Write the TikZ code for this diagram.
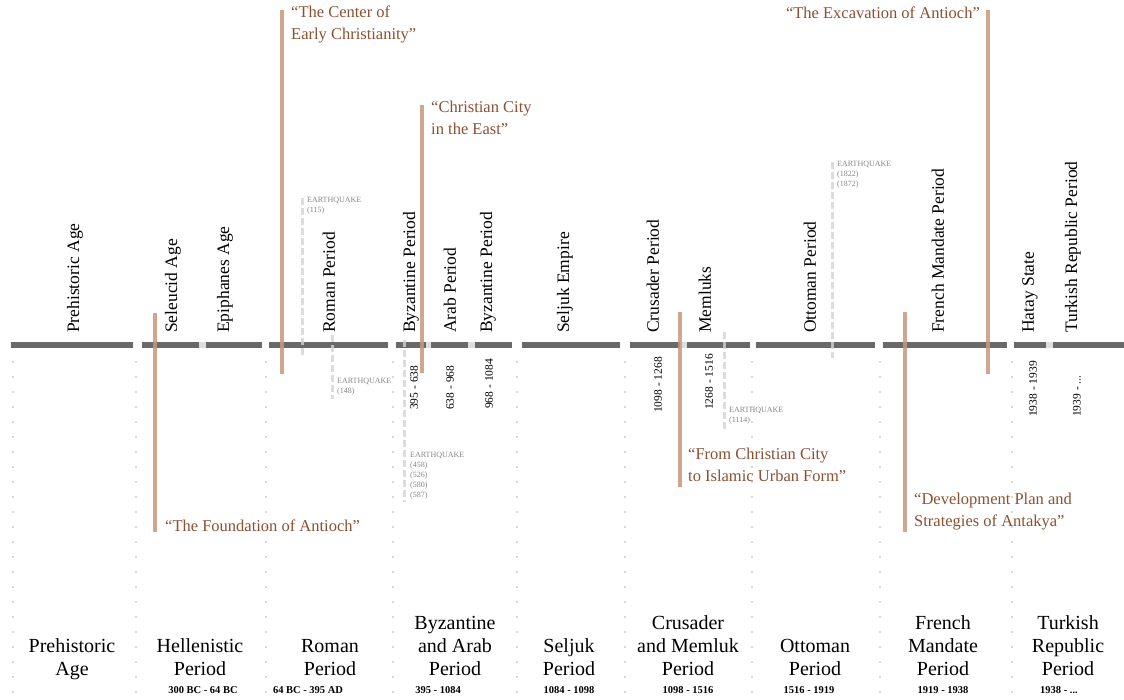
\documentclass[tikz,border=0pt]{standalone}
\usepackage{fontspec}
\setmainfont{Liberation Serif}
\definecolor{tlgray}{RGB}{105,105,105}
\definecolor{gapgray}{RGB}{222,222,222}
\definecolor{copper}{RGB}{204,150,124}
\definecolor{copperdark}{RGB}{140,80,50}
\definecolor{eqgray}{RGB}{212,212,212}
\definecolor{eqtext}{RGB}{135,135,135}
\definecolor{dotgray}{RGB}{175,175,175}
\begin{document}
\begin{tikzpicture}[x=1pt,y=-1pt,
  tl/.style={line width=6pt, draw=tlgray},
  tlgap/.style={line width=6pt, draw=gapgray},
  vlab/.style={rotate=90, anchor=west, inner sep=0pt, font=\fontsize{17.5}{20}\selectfont},
  vdate/.style={rotate=90, anchor=west, inner sep=0pt, font=\fontsize{11.5}{13}\selectfont},
  plab/.style={align=center, anchor=south, inner sep=0pt, text depth=5pt, font=\fontsize{20}{23}\selectfont},
  pdate/.style={anchor=center, inner sep=0pt, font=\bfseries\fontsize{10.5}{12}\selectfont},
  cline/.style={line width=4pt, draw=copper, opacity=0.85},
  clab/.style={inner sep=0pt, align=left, text=copperdark, font=\fontsize{16.5}{22}\selectfont},
  eqline/.style={line width=3pt, draw=eqgray, dash pattern=on 7pt off 3pt, opacity=0.8},
  eqlab/.style={anchor=north west, inner sep=0pt, align=left, text=eqtext, font=\fontsize{8}{10}\selectfont},
  dotc/.style={fill=dotgray, draw=none}
]
\useasboundingbox (0,0) rectangle (1124,700);
\fill[white] (0,0) rectangle (1124,700);

% dotted period separators
\foreach \x in {13,136,266,393,517,625,752,880,1012}{
  \foreach \y in {362,377,...,697}{
    \fill[dotc] (\x,\y) circle (0.9);
  }
}

% timeline gaps (sub-periods)
\foreach \a/\b in {199/206,426/431,468/475,680/687,1046/1053}{
  \draw[tlgap] (\a,345) -- (\b,345);
}
% timeline segments
\foreach \a/\b in {11/133,142/199,206/262,269/388,396/426,431/468,475/512,522/620,630/680,687/750,756/875,883/1007,1014/1046,1053/1124}{
  \draw[tl] (\a,345) -- (\b,345);
}

% earthquakes
\coordinate (e1t) at (302,198); \coordinate (e1b) at (302,356);
\coordinate (e2t) at (332,335); \coordinate (e2b) at (332,399);
\coordinate (e3t) at (404,340); \coordinate (e3b) at (404,502);
\coordinate (e4t) at (724,332); \coordinate (e4b) at (724,432);
\coordinate (e5t) at (832,162); \coordinate (e5b) at (832,358);
\draw[eqline] (e1t) -- (e1b);
\draw[eqline] (e2t) -- (e2b);
\draw[eqline] (e3t) -- (e3b);
\draw[eqline] (e4t) -- (e4b);
\draw[eqline] (e5t) -- (e5b);
\node[eqlab] (eq1) at (307,197) {EARTHQUAKE\\(115)};
\node[eqlab] (eq2) at (337,378) {EARTHQUAKE\\(148)};
\node[eqlab] (eq3) at (410,452) {EARTHQUAKE\\(458)\\(526)\\(580)\\(587)};
\node[eqlab] (eq4) at (729,407) {EARTHQUAKE\\(1114)};
\node[eqlab] (eq5) at (837,161) {EARTHQUAKE\\(1822)\\(1872)};

% vertical period labels
\node[vlab] (v1) at (75,333) {Prehistoric Age};
\node[vlab] (v2) at (173,333) {Seleucid Age};
\node[vlab] (v3) at (225,333) {Epiphanes Age};
\node[vlab] (v4) at (329,333) {Roman Period};
\node[vlab] (v5) at (411,333) {Byzantine Period};
\node[vlab] (v6) at (450,333) {Arab Period};
\node[vlab] (v7) at (488,333) {Byzantine Period};
\node[vlab] (v8) at (565,333) {Seljuk Empire};
\node[vlab] (v9) at (653,333) {Crusader Period};
\node[vlab] (v10) at (705,333) {Memluks};
\node[vlab] (v11) at (810,333) {Ottoman Period};
\node[vlab] (v12) at (938,333) {French Mandate Period};
\node[vlab] (v13) at (1030,333) {Hatay State};
\node[vlab] (v14) at (1073,333) {Turkish Republic Period};

% vertical dates
\node[vdate] (d1) at (414,410) {395 - 638};
\node[vdate] (d2) at (450,410) {638 - 968};
\node[vdate] (d3) at (489,409) {968 - 1084};
\node[vdate] (d4) at (658,413) {1098 - 1268};
\node[vdate] (d5) at (709,410) {1268 - 1516};
\node[vdate] (d6) at (1033,417) {1938 - 1939};
\node[vdate] (d7) at (1077,417) {1939 - ...};

% copper lines
\coordinate (c1t) at (155,313); \coordinate (c1b) at (155,532);
\coordinate (c2t) at (282,10);  \coordinate (c2b) at (282,374);
\coordinate (c3t) at (422,105); \coordinate (c3b) at (422,373);
\coordinate (c4t) at (680,312); \coordinate (c4b) at (680,487);
\coordinate (c5t) at (905,312); \coordinate (c5b) at (905,532);
\coordinate (c6t) at (988,10);  \coordinate (c6b) at (988,374);
\draw[cline] (c1t) -- (c1b);
\draw[cline] (c2t) -- (c2b);
\draw[cline] (c3t) -- (c3b);
\draw[cline] (c4t) -- (c4b);
\draw[cline] (c5t) -- (c5b);
\draw[cline] (c6t) -- (c6b);
\node[clab, anchor=west] (q1) at (165,526) {“The Foundation of Antioch”};
\node[clab, anchor=north west] (q2) at (291,6) {“The Center of\\Early Christianity”};
\node[clab, anchor=north west] (q3) at (431,101) {“Christian City\\in the East”};
\node[clab, anchor=north west] (q4) at (688,448) {“From Christian City\\to Islamic Urban Form”};
\node[clab, anchor=north west] (q5) at (914,493) {“Development Plan and\\Strategies of Antakya”};
\node[clab, anchor=north east] (q6) at (980,7) {“The Excavation of Antioch”};

% bottom period labels
\node[plab] (p1) at (72,681) {Prehistoric\\Age};
\node[plab] (p2) at (200,681) {Hellenistic\\Period};
\node[plab] (p3) at (330,681) {Roman\\Period};
\node[plab] (p4) at (455,681) {Byzantine\\and Arab\\Period};
\node[plab] (p5) at (569,681) {Seljuk\\Period};
\node[plab] (p6) at (688,681) {Crusader\\and Memluk\\Period};
\node[plab] (p7) at (815,681) {Ottoman\\Period};
\node[plab] (p8) at (943,681) {French\\Mandate\\Period};
\node[plab] (p9) at (1068,681) {Turkish\\Republic\\Period};

% bottom dates
\node[pdate] (b2) at (203,690) {300 BC - 64 BC};
\node[pdate] (b3) at (308,690) {64 BC - 395 AD};
\node[pdate] (b4) at (438,690) {395 - 1084};
\node[pdate] (b5) at (569,690) {1084 - 1098};
\node[pdate] (b6) at (688,690) {1098 - 1516};
\node[pdate] (b7) at (809,690) {1516 - 1919};
\node[pdate] (b8) at (943,690) {1919 - 1938};
\node[pdate] (b9) at (1059,690) {1938 - ...};
\end{tikzpicture}
\end{document}
